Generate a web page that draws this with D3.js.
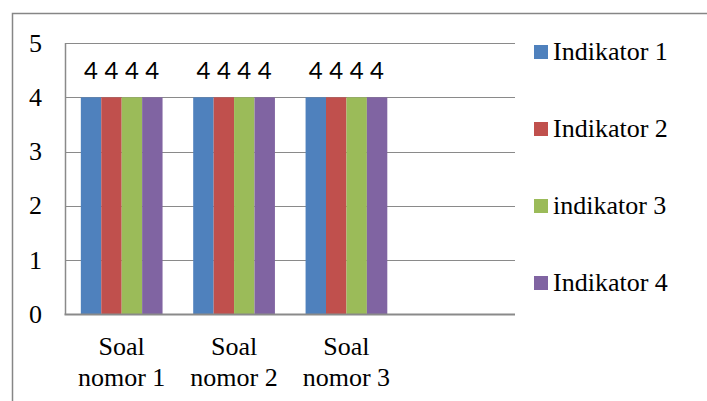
<!DOCTYPE html>
<html>
<head>
<meta charset="utf-8">
<script src="https://cdn.jsdelivr.net/npm/d3@7"></script>
</head>
<body style="margin:0">
<svg id="chart" width="707" height="401" style="font-family:'Liberation Serif'"></svg>
<script>
// Categories (the fourth slot is left empty on purpose)
const categories = ["Soal nomor 1", "Soal nomor 2", "Soal nomor 3", ""];
const seriesNames = ["Indikator 1", "Indikator 2", "indikator 3", "Indikator 4"];
const indikator1 = [4, 4, 4, null];
const indikator2 = [4, 4, 4, null];
const indikator3 = [4, 4, 4, null];
const indikator4 = [4, 4, 4, null];
const seriesValues = [indikator1, indikator2, indikator3, indikator4];
const yTicks = [0, 1, 2, 3, 4, 5];
const colors = ["#4F81BD", "#C0504D", "#9BBB59", "#8064A2"];

const svg = d3.select("#chart");

// outer chart frame (extends past the right and bottom edges)
svg.append("rect")
  .attr("x", 12.5).attr("y", 13.5)
  .attr("width", 720).attr("height", 420)
  .attr("fill", "none").attr("stroke", "#868686").attr("stroke-width", 1.5);

const plot = { left: 65.5, right: 515, top: 43, bottom: 314.5 };

const x0 = d3.scaleBand().domain(categories.map((c, i) => i))
  .range([plot.left, plot.right]).paddingInner(0).paddingOuter(0);
const x1 = d3.scaleBand().domain(seriesNames)
  .range([0, x0.bandwidth()]).paddingInner(0).paddingOuter(0.75);
const y = d3.scaleLinear().domain([0, 5]).range([plot.bottom, plot.top]);

// gridlines
svg.selectAll("line.grid").data(yTicks.filter(t => t > 0)).join("line")
  .attr("class", "grid")
  .attr("x1", plot.left).attr("x2", plot.right)
  .attr("y1", d => Math.round(y(d)) + 0.5).attr("y2", d => Math.round(y(d)) + 0.5)
  .attr("stroke", "#8a8a8a").attr("stroke-width", 1.2);

// bars
const rows = [];
seriesValues.forEach((vals, s) => vals.forEach((v, c) => {
  if (v != null) rows.push({ s, c, v });
}));
svg.selectAll("rect.bar").data(rows).join("rect")
  .attr("class", "bar")
  .attr("x", d => x0(d.c) + x1(seriesNames[d.s]))
  .attr("y", d => y(d.v))
  .attr("width", x1.bandwidth())
  .attr("height", d => y(0) - y(d.v))
  .attr("fill", d => colors[d.s]);

// value labels above bars
svg.selectAll("text.value").data(rows).join("text")
  .attr("class", "value")
  .attr("x", d => x0(d.c) + x1(seriesNames[d.s]) + x1.bandwidth() / 2)
  .attr("y", d => y(d.v) - 18)
  .attr("text-anchor", "middle")
  .style("font-family", '"Lato"').style("font-size", "24px")
  .text(d => d.v);

// value axis line
svg.append("line")
  .attr("x1", plot.left).attr("x2", plot.left)
  .attr("y1", plot.top).attr("y2", plot.bottom)
  .attr("stroke", "#8a8a8a").attr("stroke-width", 1.5);
// category axis line
svg.append("line")
  .attr("x1", plot.left - 1).attr("x2", plot.right)
  .attr("y1", plot.bottom).attr("y2", plot.bottom)
  .attr("stroke", "#8a8a8a").attr("stroke-width", 2.2);

// y tick labels
svg.selectAll("text.ytick").data(yTicks).join("text")
  .attr("class", "ytick")
  .attr("x", 42).attr("y", d => y(d) + 8.5)
  .attr("text-anchor", "end")
  .style("font-family", '"Liberation Serif"').style("font-size", "26px")
  .text(d => d);

// category labels, two lines each
const catLines = [];
categories.forEach((c, i) => {
  const parts = c.split(" ");
  if (!c) return;
  [parts[0], parts.slice(1).join(" ")].forEach((t, k) => catLines.push({ t, i, k }));
});
svg.selectAll("text.cat").data(catLines).join("text")
  .attr("class", "cat")
  .attr("x", d => x0(d.i) + x0.bandwidth() / 2)
  .attr("y", d => 355 + d.k * 31)
  .attr("text-anchor", "middle")
  .style("font-family", '"Liberation Serif"').style("font-size", "26px")
  .text(d => d.t);

// legend
svg.selectAll("rect.key").data(seriesNames).join("rect")
  .attr("class", "key")
  .attr("x", 534).attr("y", (d, i) => 45 + i * 77)
  .attr("width", 14).attr("height", 14)
  .attr("fill", (d, i) => colors[i]);
svg.selectAll("text.key").data(seriesNames).join("text")
  .attr("class", "key")
  .attr("x", 553).attr("y", (d, i) => 60 + i * 77)
  .style("font-family", '"Liberation Serif"').style("font-size", "26px")
  .text(d => d);
</script>
</body>
</html>
